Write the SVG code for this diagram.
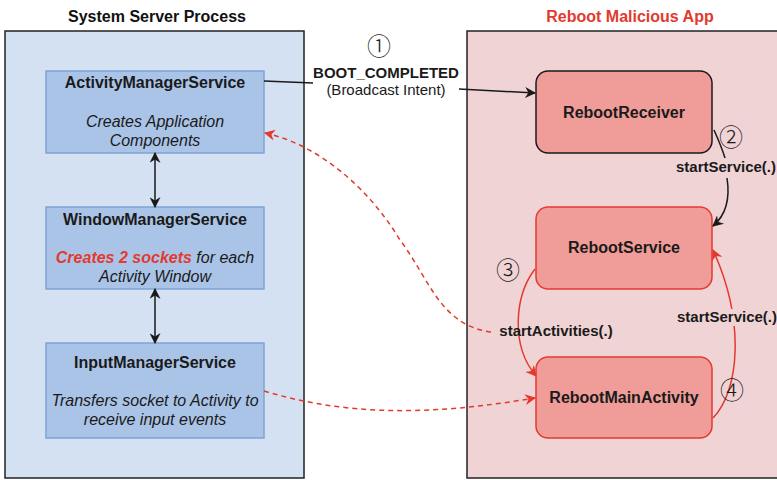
<svg xmlns="http://www.w3.org/2000/svg" width="777" height="480" viewBox="0 0 777 480">
  <style>
    .title { font-family: "Liberation Sans", Arial, sans-serif; font-weight: bold; font-size: 16px; text-anchor: middle; }
    .head { font-family: "Liberation Sans", Arial, sans-serif; font-weight: bold; font-size: 16px; text-anchor: middle; fill: #1a1a1a; }
    .desc { font-family: "Liberation Sans", Arial, sans-serif; font-style: italic; font-size: 16px; text-anchor: middle; fill: #1a1a1a; }
    .lbl { font-family: "Liberation Sans", Arial, sans-serif; font-weight: bold; font-size: 15px; text-anchor: middle; fill: #1a1a1a; }
    .lbl2 { font-family: "Liberation Sans", Arial, sans-serif; font-size: 15px; text-anchor: middle; fill: #1a1a1a; }
    .num { font-family: "Noto Sans CJK JP", "DejaVu Serif", serif; font-size: 24px; font-weight: 300; text-anchor: middle; fill: #1a1a1a; }
    .svc { fill: #aac4e8; stroke: #7fa3d3; stroke-width: 1.5; }
    .app { fill: #f09c98; stroke-width: 1.5; }
    .blk { fill: none; stroke: #1a1a1a; stroke-width: 1.5; }
    .red { fill: none; stroke: #e23a2e; stroke-width: 1.5; }
    .dash { fill: none; stroke: #e23a2e; stroke-width: 1.5; stroke-dasharray: 5 4; }
  </style>
  <defs>
    <marker id="ab" viewBox="0 0 10 10" refX="9" refY="5" markerWidth="11" markerHeight="11" markerUnits="userSpaceOnUse" orient="auto-start-reverse">
      <path d="M0,0 L10,5 L0,10 L3,5 z" fill="#1a1a1a"/>
    </marker>
    <marker id="ar" viewBox="0 0 10 10" refX="9" refY="5" markerWidth="11" markerHeight="11" markerUnits="userSpaceOnUse" orient="auto-start-reverse">
      <path d="M0,0 L10,5 L0,10 L3,5 z" fill="#e23a2e"/>
    </marker>
  </defs>

  <!-- containers -->
  <g id="system-server">
    <rect x="5" y="31" width="299" height="447" fill="#d4e1f2" stroke="#222" stroke-width="1.5"/>
    <text class="title" x="157" y="22" fill="#111">System Server Process</text>
  </g>
  <g id="malicious-app">
    <rect x="467" y="31" width="320" height="447" fill="#f0d3d4" stroke="#222" stroke-width="1.5"/>
    <text class="title" x="630" y="22" fill="#e23a2e">Reboot Malicious App</text>
  </g>

  <!-- system services -->
  <g id="ams">
    <rect class="svc" x="46" y="71" width="218" height="82"/>
    <text class="head" x="155" y="88">ActivityManagerService</text>
    <text class="desc" x="155" y="127">Creates Application</text>
    <text class="desc" x="155" y="146">Components</text>
  </g>
  <g id="wms">
    <rect class="svc" x="46" y="207" width="218" height="82"/>
    <text class="head" x="155" y="225">WindowManagerService</text>
    <text class="desc" x="155" y="263"><tspan fill="#e23a2e" font-weight="bold">Creates 2 sockets</tspan> for each</text>
    <text class="desc" x="155" y="282">Activity Window</text>
  </g>
  <g id="ims">
    <rect class="svc" x="46" y="343" width="218" height="95"/>
    <text class="head" x="155" y="368">InputManagerService</text>
    <text class="desc" x="155" y="406">Transfers socket to Activity to</text>
    <text class="desc" x="155" y="425">receive input events</text>
  </g>

  <!-- app components -->
  <g id="reboot-receiver">
    <rect class="app" x="536" y="71" width="176" height="82" rx="12" stroke="#1a1a1a"/>
    <text class="head" x="624" y="118">RebootReceiver</text>
  </g>
  <g id="reboot-service">
    <rect class="app" x="536" y="207" width="176" height="82" rx="12" stroke="#e23a2e"/>
    <text class="head" x="624" y="253">RebootService</text>
  </g>
  <g id="reboot-main-activity">
    <rect class="app" x="536" y="357" width="176" height="81" rx="12" stroke="#e23a2e"/>
    <text class="head" x="624" y="403">RebootMainActivity</text>
  </g>

  <!-- connectors -->
  <g id="connectors">
    <line class="blk" x1="155" y1="153" x2="155" y2="207" marker-start="url(#ab)" marker-end="url(#ab)"/>
    <line class="blk" x1="155" y1="289" x2="155" y2="343" marker-start="url(#ab)" marker-end="url(#ab)"/>

    <path class="blk" d="M264,81 L313,83"/>
    <path class="blk" d="M459,89 L535,93" marker-end="url(#ab)"/>

    <path class="blk" d="M714,130 Q722,148 725,158"/>
    <path class="blk" d="M727,178 Q732,210 713,226" marker-end="url(#ab)"/>

    <path class="red" d="M535,269 C515,295 510,345 536,376" marker-end="url(#ar)"/>
    <path class="red" d="M713,418 C740,390 745,320 713,250" marker-end="url(#ar)"/>

    <path class="dash" d="M491,332 C440,325 430,280 400,240 C370,190 320,145 265,133" marker-end="url(#ar)"/>
    <path class="dash" d="M264,391 C360,420 450,412 535,398" marker-end="url(#ar)"/>

    <text class="num" x="379" y="55">①</text>
    <text class="lbl" x="386" y="78">BOOT_COMPLETED</text>
    <text class="lbl2" x="386" y="95">(Broadcast Intent)</text>

    <text class="num" x="731" y="146">②</text>
    <rect x="677" y="159" width="100" height="17" fill="#f0d3d4"/>
    <text class="lbl" x="726" y="172">startService(.)</text>

    <text class="num" x="508" y="279">③</text>
    <text class="lbl" x="556" y="336">startActivities(.)</text>

    <rect x="678" y="309" width="99" height="17" fill="#f0d3d4"/>
    <text class="lbl" x="727" y="322">startService(.)</text>
    <text class="num" x="732" y="399">④</text>
  </g>
</svg>
